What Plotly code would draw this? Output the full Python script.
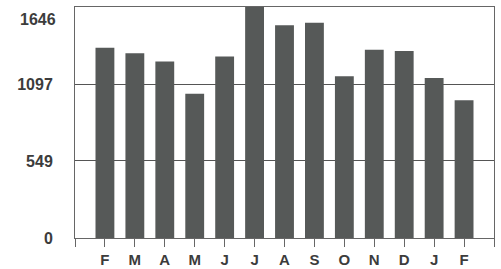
import plotly.graph_objects as go

months = ["F", "M", "A", "M", "J", "J", "A", "S", "O", "N", "D", "J", "F"]
values = [1356, 1316, 1258, 1028, 1293, 1646, 1516, 1534, 1152, 1342, 1333, 1140, 982]
ytick_vals = [0, 549, 1097, 1646]
ytick_text = ["0", "549", "1097", "1646"]

xpos = list(range(len(months)))
tickvals = [-1] + xpos + [len(months)]
ticktext = [""] + months + [""]

label_font = dict(size=16, color="#3c3c3c", family="Liberation Sans, Arial, sans-serif", weight="bold")

fig = go.Figure()
fig.add_trace(go.Bar(
    x=xpos, y=values, width=0.63,
    marker=dict(color="#565958", line=dict(width=0)),
    hoverinfo="skip",
))

fig.update_layout(
    width=501, height=269,
    margin=dict(l=75, r=7, t=7, b=31),
    paper_bgcolor="white", plot_bgcolor="white",
    showlegend=False,
    font=dict(family="Liberation Sans, Arial, sans-serif", size=16, color="#3c3c3c"),
)
fig.update_xaxes(
    range=[-1, len(months)],
    tickmode="array", tickvals=tickvals, ticktext=ticktext,
    ticks="outside", ticklen=8, tickwidth=1, tickcolor="#666",
    showline=True, linecolor="#666", linewidth=1, mirror=True,
    showgrid=False, zeroline=False, automargin=False,
    tickfont=dict(size=15, color="#3c3c3c", family="Liberation Sans, Arial, sans-serif", weight="bold"),
    ticklabelstandoff=0, ticklabeloverflow="allow",
)
# top label drawn separately so it sits inside the page like the reference
axis_text = ytick_text[:-1] + [""]
fig.update_yaxes(
    range=[0, ytick_vals[-1]],
    tickmode="array", tickvals=ytick_vals, ticktext=axis_text,
    ticks="", showline=True, linecolor="#666", linewidth=1, mirror=True,
    showgrid=True, gridcolor="#555", gridwidth=1, zeroline=False, automargin=False,
    tickfont=label_font,
    ticklabelstandoff=18, ticklabeloverflow="allow",
)
fig.add_annotation(
    text=ytick_text[-1], xref="paper", x=0, xanchor="right", xshift=-17,
    yref="y", y=ytick_vals[-1], yanchor="middle", yshift=-12,
    showarrow=False, font=label_font,
)

fig.write_html(
    "out.html",
    config={"displayModeBar": False, "staticPlot": True},
    post_script="document.body.style.margin='0';document.body.style.padding='0';",
)
